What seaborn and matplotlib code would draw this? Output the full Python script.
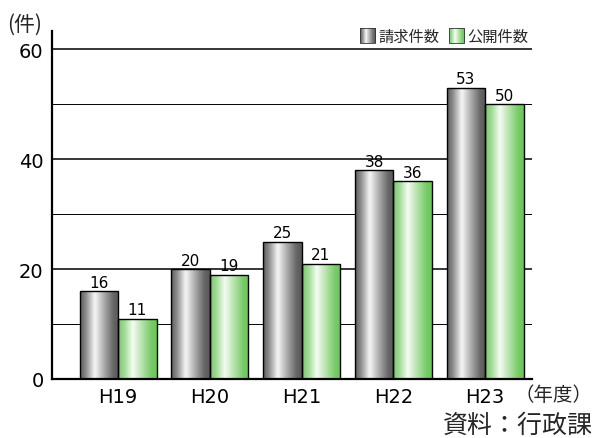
import numpy as np
import pandas as pd
import matplotlib
matplotlib.use("Agg")
import matplotlib.pyplot as plt
from matplotlib.colors import LinearSegmentedColormap
from matplotlib.image import BboxImage
import seaborn as sns

# 年度別の請求件数・公開件数
years = ["H19", "H20", "H21", "H22", "H23"]
requests = [16, 20, 25, 38, 53]
disclosures = [11, 19, 21, 36, 50]
series = ["請求件数", "公開件数"]
y_ticks = [0, 20, 40, 60]

sns.set_theme(style="white")
plt.rcParams["font.family"] = ["DejaVu Sans", "Noto Sans CJK JP"]

df = pd.DataFrame({
    "year": years * 2,
    "count": requests + disclosures,
    "kind": [series[0]] * len(years) + [series[1]] * len(years),
})

# 円柱風のグラデーション
gray_cmap = LinearSegmentedColormap.from_list("gray_cyl", [
    (0.00, "#5c5c5c"), (0.15, "#8c8c8c"), (0.38, "#f7f7f7"),
    (0.62, "#ababab"), (0.86, "#666666"), (1.00, "#585858")])
green_cmap = LinearSegmentedColormap.from_list("green_cyl", [
    (0.00, "#76c868"), (0.18, "#a6dc9c"), (0.38, "#f5fcf3"),
    (0.62, "#b4e3aa"), (0.86, "#76cb66"), (1.00, "#6cc45c")])
cmaps = [gray_cmap, green_cmap]
grad = np.linspace(0, 1, 256).reshape(1, -1)

fig = plt.figure(figsize=(5.95, 4.39), dpi=100)
ax = fig.add_axes([52 / 595, 59 / 439, 480 / 595, 348 / 439])

sns.barplot(data=df, x="year", y="count", hue="kind", hue_order=series,
            palette=["#808080", "#90d080"], width=0.84, dodge=True,
            legend=False, ax=ax, zorder=3)

for cont, cmap in zip(ax.containers, cmaps):
    for bar in cont:
        x0, y0 = bar.get_x(), bar.get_y()
        w, h = bar.get_width(), bar.get_height()
        img = ax.imshow(grad, cmap=cmap, extent=[x0, x0 + w, y0, y0 + h],
                        aspect="auto", interpolation="bicubic", zorder=3)
        img.set_clip_path(bar)
        bar.set_facecolor("none")
        bar.set_edgecolor("black")
        bar.set_linewidth(1.0)
        bar.set_zorder(4)
    ax.bar_label(cont, fmt="%d", padding=1, fontsize=11, color="black")

ax.set_xlim(-0.72, 4.51)
ax.set_ylim(0, 63.3)
ax.set_yticks(y_ticks)
ax.set_yticks([10, 30, 50], minor=True)
ax.grid(axis="y", which="major", color="black", linewidth=1.1, zorder=1)
ax.grid(axis="y", which="minor", color="black", linewidth=0.7, zorder=1)
ax.set_axisbelow(True)
ax.tick_params(axis="both", which="both", length=0, labelsize=14,
               colors="black")
ax.tick_params(axis="y", pad=6)
ax.tick_params(axis="x", pad=6)
ax.set_xlabel("")
ax.set_ylabel("")
for side in ["top", "right"]:
    ax.spines[side].set_visible(False)
for side in ["left", "bottom"]:
    ax.spines[side].set_color("black")
    ax.spines[side].set_linewidth(1.6)
    ax.spines[side].set_zorder(5)

# 凡例(グラデーションの四角)
handles = [plt.Rectangle((0, 0), 1, 1, facecolor="none", edgecolor="#333333",
                         linewidth=0.6) for _ in series]
leg = fig.legend(handles, series, loc="center right",
                 bbox_to_anchor=(528 / 595, 1 - 37 / 439), ncol=2,
                 frameon=False, fontsize=11, handlelength=1.0,
                 handleheight=1.1, handletextpad=0.2, columnspacing=0.6,
                 borderpad=0, borderaxespad=0,
                 prop={"family": ["Noto Sans CJK JP"], "size": 11})
for patch, cmap in zip(leg.get_patches(), cmaps):
    bi = BboxImage(lambda r, p=patch: p.get_window_extent(r),
                   cmap=cmap, interpolation="bicubic")
    bi.set_data(grad)
    bi.set_zorder(leg.get_zorder() - 0.1)
    fig.add_artist(bi)

fig.text(7 / 595, 1 - 25 / 439, "(件)", fontsize=15, va="center", ha="left",
         family=["Noto Sans CJK JP"])
fig.text(593 / 595, 1 - 396 / 439, "（年度）", fontsize=14, va="center",
         ha="right", family=["Noto Sans CJK JP"])
fig.text(593 / 595, 1 - 426 / 439, "資料：行政課", fontsize=18, va="center",
         ha="right", family=["Noto Sans CJK JP"])

# 凡例の位置を確定させてから保存
fig.canvas.draw()
fig.savefig("out.png", dpi=100)
